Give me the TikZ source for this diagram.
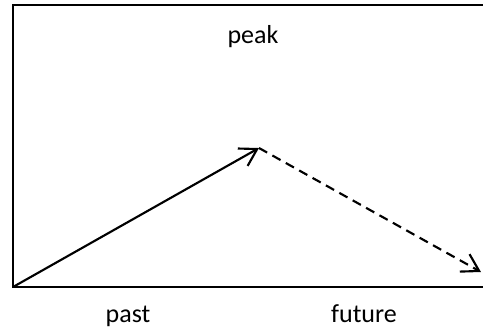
\documentclass[tikz,border=0pt]{standalone}
\usepackage{fontspec}
\setmainfont{Carlito}
\usepackage{tikz}
\usetikzlibrary{arrows.meta,positioning}

\begin{document}
\begin{tikzpicture}[
    x=0.75pt,y=-0.75pt,
    axis/.style={line width=2pt},
    trend/.style={line width=1.6pt,-{Straight Barb[length=12.5pt,width=15pt,line width=1.6pt]}},
    lbl/.style={font=\fontsize{19.5}{22}\selectfont,anchor=base},
]
    \useasboundingbox (0,0) rectangle (483,330);

    % frame: top, left and bottom only
    \coordinate (tl) at (13,5);
    \coordinate (bl) at (13,287);
    \coordinate (tr) at (483,5);
    \coordinate (br) at (483,287);
    \draw[axis] (tr) -- (tl) -- (bl) -- (br);

    \coordinate (peakpt) at (259,148);
    \coordinate (endpt) at (481,272);
    \draw[trend] (bl) -- (peakpt);
    \draw[trend,dash pattern=on 7pt off 4.5pt] (peakpt) -- (endpt);

    \node[lbl] (peak) at (253,43) {peak};
    \node[lbl] (past) at (128,322) {past};
    \node[lbl] (future) at (364,322) {future};
\end{tikzpicture}
\end{document}
